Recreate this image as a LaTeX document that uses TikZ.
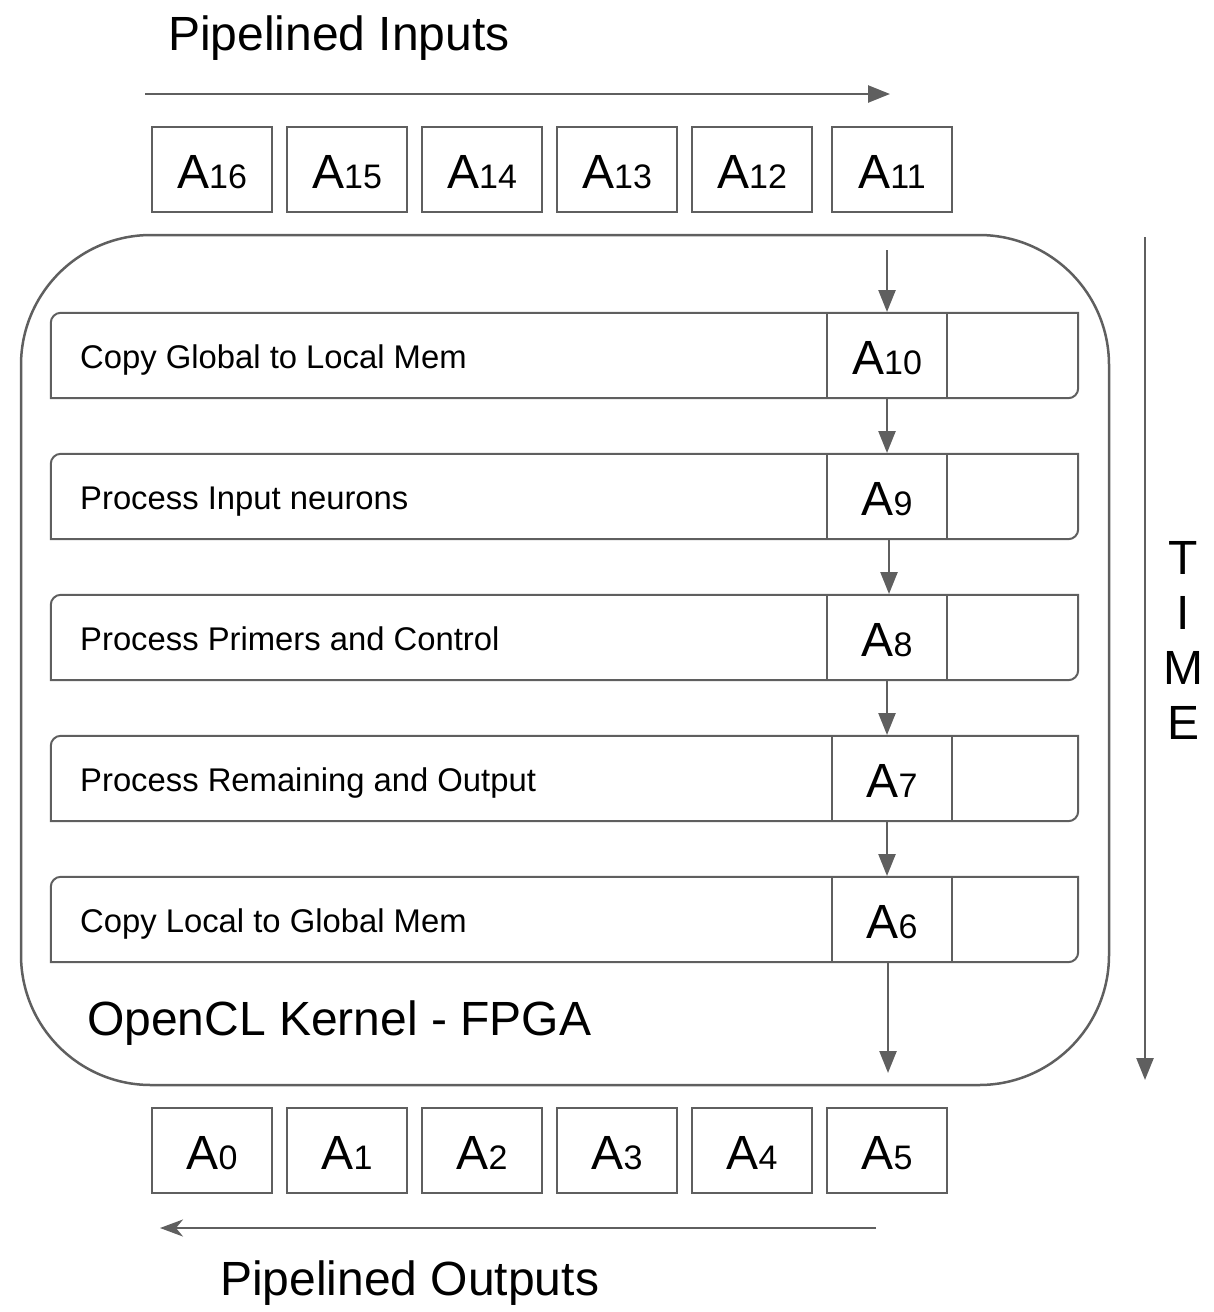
\documentclass[tikz,border=0pt]{standalone}
\usepackage{fontspec}
\setmainfont{Liberation Sans}
\usetikzlibrary{arrows.meta}
\definecolor{linegray}{RGB}{95,95,95}
\newcommand\Asub[1]{\raisebox{-2.5pt}[\height][\depth]{{\fontsize{48}{48}\selectfont A}{\fontsize{34}{34}\selectfont #1}}}
\tikzset{
  cell/.style={draw=linegray, line width=2pt, minimum width=120pt, minimum height=85pt, inner sep=0pt, fill=white},
  barbox/.style={draw=none, minimum width=1027pt, minimum height=85pt, inner sep=0pt},
  barline/.style={draw=linegray, line width=2pt},
  stagelabel/.style={anchor=base west, inner sep=0pt, font=\fontsize{32.8}{38}\selectfont},
  bigtext/.style={inner sep=0pt, font=\fontsize{48}{55}\selectfont},
  arr/.style={draw=linegray, line width=2.5pt, -{Triangle[width=17pt,length=22pt]}},
  arrs/.style={draw=linegray, line width=2.5pt, -{Stealth[width=17pt,length=23pt,inset=7pt]}},
}
\begin{document}
\begin{tikzpicture}[x=1pt,y=1pt]
\useasboundingbox (0,0) rectangle (1214,-1312);

% titles
\node[bigtext, anchor=base west] (tin) at (168,-50) {Pipelined Inputs};
\node[bigtext, anchor=base west] (tout) at (220,-1295) {Pipelined Outputs};

% top arrow
\coordinate (ia) at (145,-94);
\coordinate (ib) at (890,-94);
\draw[arr] (ia) -- (ib);

% kernel
\draw[draw=linegray, line width=2.5pt, rounded corners=130pt] (21,-235) rectangle (1109,-1085);
\node[bigtext, anchor=base west] (kern) at (87,-1035) {OpenCL Kernel - FPGA};

% top boxes
\node[cell] (t16) at (212,-169.5) {\Asub{16}};
\node[cell] (t15) at (347,-169.5) {\Asub{15}};
\node[cell] (t14) at (482,-169.5) {\Asub{14}};
\node[cell] (t13) at (617,-169.5) {\Asub{13}};
\node[cell] (t12) at (752,-169.5) {\Asub{12}};
\node[cell] (t11) at (892,-169.5) {\Asub{11}};

% stage bars
\foreach \i/\yc in {1/355.5, 2/496.5, 3/637.5, 4/778.5, 5/919.5} {
  \node[barbox] (bar\i) at (564.5,-\yc) {};
  \draw[barline] ([yshift=-10pt]bar\i.north west) arc[start angle=180, end angle=90, radius=10pt]
     -- (bar\i.north east) -- ([yshift=10pt]bar\i.south east)
     arc[start angle=0, end angle=-90, radius=10pt] -- (bar\i.south west) -- cycle;
}
\node[stagelabel] (l1) at (80,-368) {Copy Global to Local Mem};
\node[stagelabel] (l2) at (80,-509) {Process Input neurons};
\node[stagelabel] (l3) at (80,-650) {Process Primers and Control};
\node[stagelabel] (l4) at (80,-791) {Process Remaining and Output};
\node[stagelabel] (l5) at (80,-932) {Copy Local to Global Mem};

\node[cell] (c10) at (887,-355.5) {\Asub{10}};
\node[cell] (c9) at (887,-496.5) {\Asub{9}};
\node[cell] (c8) at (887,-637.5) {\Asub{8}};
\node[cell] (c7) at (892,-778.5) {\Asub{7}};
\node[cell] (c6) at (892,-919.5) {\Asub{6}};

% pipeline arrows
\coordinate (in1) at (887,-250);
\coordinate (out1) at (888,-1073);
\draw[arr] (in1) -- (c10.north);
\draw[arr] (c10.south) -- (c9.north);
\draw[arr] ([xshift=2pt]c9.south) -- ([xshift=2pt]c9.south |- c8.north);
\draw[arr] (c8.south) -- (c8.south |- c7.north);
\draw[arr] ([xshift=-5pt]c7.south) -- ([xshift=-5pt]c6.north);
\draw[arr] ([xshift=-4pt]c6.south) -- (out1);

% bottom boxes
\node[cell] (b0) at (212,-1150.5) {\Asub{0}};
\node[cell] (b1) at (347,-1150.5) {\Asub{1}};
\node[cell] (b2) at (482,-1150.5) {\Asub{2}};
\node[cell] (b3) at (617,-1150.5) {\Asub{3}};
\node[cell] (b4) at (752,-1150.5) {\Asub{4}};
\node[cell] (b5) at (887,-1150.5) {\Asub{5}};

% bottom arrow
\coordinate (oa) at (876,-1228);
\coordinate (ob) at (160,-1228);
\draw[arrs] (oa) -- (ob);

% time
\coordinate (ta) at (1145,-237);
\coordinate (tb) at (1145,-1080);
\draw[arr] (ta) -- (tb);
\node[bigtext, align=center] (time) at (1183,-640) {T\\I\\M\\E};
\end{tikzpicture}
\end{document}
